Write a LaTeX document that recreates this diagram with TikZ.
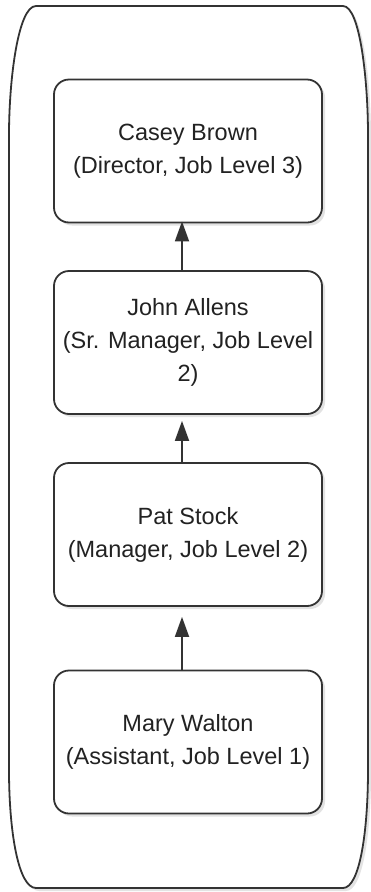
\documentclass[tikz,border=0pt]{standalone}
\usepackage{fontspec}
\setmainfont{Liberation Sans}
\usetikzlibrary{arrows.meta,shadows}
\definecolor{edge}{HTML}{333333}
\definecolor{txt}{HTML}{222222}
\begin{document}
\begin{tikzpicture}[x=1pt,y=-1pt,
  person/.style={draw=edge, line width=1.8pt, fill=white, rounded corners=15pt,
    minimum width=268pt, minimum height=143pt, align=center, text=txt,
    font=\fontsize{23.5}{33}\selectfont, inner sep=0pt,
    drop shadow={shadow xshift=3pt, shadow yshift=-3pt, fill=black!22}},
  arr/.style={draw=edge, line width=1.8pt, -{Triangle[length=20pt,width=14pt]}}]
\useasboundingbox (0,0) rectangle (370,892);
% outer container
\path[draw=edge, line width=1.8pt, fill=white,
  drop shadow={shadow xshift=3pt, shadow yshift=-3pt, fill=black!22}]
  (36,6) -- (343,6) .. controls (360,6) and (368,80) .. (368,135)
  -- (368,770) .. controls (368,830) and (360,888) .. (343,888)
  -- (36,888) .. controls (18,888) and (9,830) .. (9,770)
  -- (9,135) .. controls (9,80) and (18,6) .. (36,6) -- cycle;
\node[person] (b1) at (188,151) {Casey Brown\\(Director, Job Level 3)};
\node[person] (b2) at (188,342.5) {John Allens\\(Sr. Manager, Job Level\\2)};
\node[person] (b3) at (188,534.5) {Pat Stock\\(Manager, Job Level 2)};
\node[person] (b4) at (188,742) {Mary Walton\\(Assistant, Job Level 1)};
\draw[arr, shorten >=-2pt] ([xshift=-6pt]b2.north) -- ([xshift=-6pt]b1.south);
\draw[arr, shorten >=6pt] ([xshift=-6pt]b3.north) -- ([xshift=-6pt]b2.south);
\draw[arr, shorten >=10pt] ([xshift=-6pt]b4.north) -- ([xshift=-6pt]b3.south);
\end{tikzpicture}
\end{document}
